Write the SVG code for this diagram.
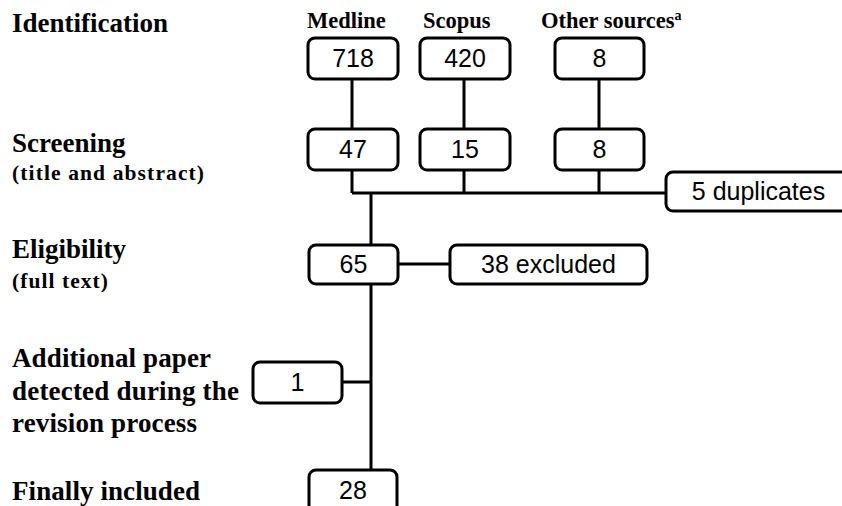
<svg xmlns="http://www.w3.org/2000/svg" width="842" height="506" viewBox="0 0 842 506">
<style>
.bg{fill:#fff}
.box{fill:#fff;stroke:#000;stroke-width:3}
.num{font-family:"Liberation Sans",Arial,sans-serif;font-size:25px;fill:#000;text-anchor:middle}
.lbl{font-family:"Liberation Serif","Times New Roman",serif;font-weight:bold;font-size:27px;fill:#000}
.sub{font-family:"Liberation Serif","Times New Roman",serif;font-weight:bold;font-size:21.5px;fill:#000}
.src{font-family:"Liberation Serif","Times New Roman",serif;font-weight:bold;font-size:22.5px;fill:#000}
.con{fill:none;stroke:#000;stroke-width:3}
</style>
<rect class="bg" x="0" y="0" width="842" height="506"/>
<g id="stage-labels">
<text class="lbl" x="12" y="32">Identification</text>
<text class="lbl" x="12" y="152">Screening</text>
<text class="sub" x="12" y="180" textLength="192" lengthAdjust="spacing">(title and abstract)</text>
<text class="lbl" x="12" y="258">Eligibility</text>
<text class="sub" x="12" y="288" textLength="96" lengthAdjust="spacing">(full text)</text>
<text class="lbl" x="12" y="367" textLength="199" lengthAdjust="spacing">Additional paper</text>
<text class="lbl" x="12" y="400" textLength="227" lengthAdjust="spacing">detected during the</text>
<text class="lbl" x="12" y="432" textLength="185" lengthAdjust="spacing">revision process</text>
<text class="lbl" x="12" y="500" textLength="188" lengthAdjust="spacing">Finally included</text>
</g>
<g id="source-labels">
<text class="src" x="307" y="28">Medline</text>
<text class="src" x="423" y="28">Scopus</text>
<text class="src" x="541" y="28">Other sources<tspan font-size="14" dy="-8">a</tspan></text>
</g>
<g id="connectors">
<path class="con" d="M352 79V129"/>
<path class="con" d="M464 79V129"/>
<path class="con" d="M599 79V129"/>
<path class="con" d="M352 170V193M464 170V193M599 170V193M352 193H666"/>
<path class="con" d="M371 193V245"/>
<path class="con" d="M398 264H450"/>
<path class="con" d="M371 284V470"/>
<path class="con" d="M342 382H371"/>
</g>
<g id="n-medline"><rect class="box" x="308" y="38" width="90" height="41" rx="7"/><text class="num" x="353" y="67">718</text></g>
<g id="n-scopus"><rect class="box" x="420" y="38" width="90" height="41" rx="7"/><text class="num" x="465" y="67">420</text></g>
<g id="n-other"><rect class="box" x="555" y="38" width="89" height="41" rx="7"/><text class="num" x="599.5" y="67">8</text></g>
<g id="n-medline-screen"><rect class="box" x="308" y="129" width="90" height="41" rx="7"/><text class="num" x="353" y="158">47</text></g>
<g id="n-scopus-screen"><rect class="box" x="420" y="129" width="90" height="41" rx="7"/><text class="num" x="465" y="158">15</text></g>
<g id="n-other-screen"><rect class="box" x="555" y="129" width="89" height="41" rx="7"/><text class="num" x="599.5" y="158">8</text></g>
<g id="n-duplicates"><rect class="box" x="666" y="172" width="185" height="39" rx="7"/><text class="num" x="758.5" y="200">5 duplicates</text></g>
<g id="n-eligible"><rect class="box" x="309" y="245" width="89" height="39" rx="7"/><text class="num" x="353.5" y="273">65</text></g>
<g id="n-excluded"><rect class="box" x="450" y="245" width="197" height="39" rx="7"/><text class="num" x="548.5" y="273">38 excluded</text></g>
<g id="n-additional"><rect class="box" x="253" y="362" width="89" height="41" rx="7"/><text class="num" x="297.5" y="391">1</text></g>
<g id="n-included"><rect class="box" x="309" y="470" width="88" height="44" rx="7"/><text class="num" x="353" y="499">28</text></g>
</svg>
